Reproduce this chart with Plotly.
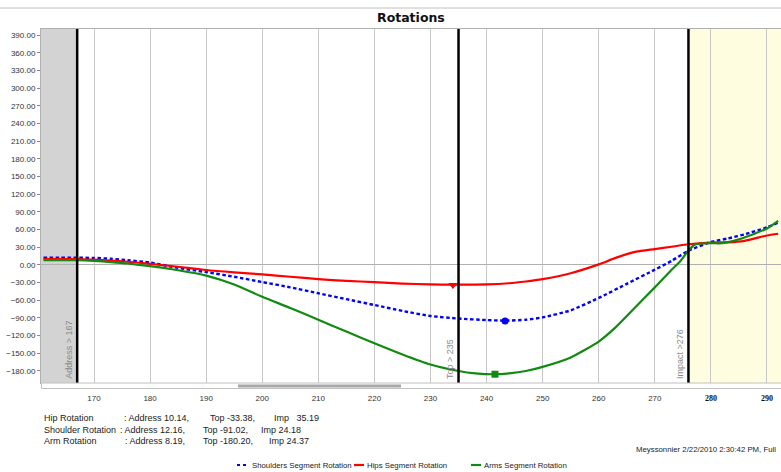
import plotly.graph_objects as go

# ---------------- data ----------------
frames_hips = [161, 164, 167, 170, 173, 176, 180, 185, 190, 195, 200, 205, 210, 215, 220, 225, 230, 234,
               240, 244, 247, 250, 255, 260, 263, 266.7, 270, 273, 276, 280, 283, 286, 290, 292]
hips_vals = [10.1, 10.1, 10.1, 9, 7.5, 5.5, 2, -3, -8.5, -12.5, -16, -20, -24, -27, -29, -31.5, -33, -33.4,
             -33, -31, -28, -24, -14, 1, 12, 22.6, 27, 31, 35.2, 38, 38.5, 41, 50, 53]

frames_sh = [161, 164, 167, 170, 173, 176, 180, 185, 190, 195, 200, 205, 210, 215, 220, 225, 230, 235,
             240, 243.3, 247, 250, 255, 260, 265, 270, 273, 276, 280, 283, 286, 290, 292]
sh_vals = [12.2, 12.2, 12.2, 12, 10.5, 8, 4, -5, -12, -20, -29, -38, -48, -58, -68, -78, -86.6, -91,
           -93.5, -94.5, -93, -89, -77, -56, -32, -8, 7, 24.2, 39, 45, 52, 64, 72]

frames_arm = [161, 164, 167, 170, 173, 176, 180, 185, 190, 195, 200, 205, 210, 215, 220, 225, 230, 235,
              238, 241.5, 244, 247, 250, 255, 260, 263, 266, 270, 273, 274.5, 276, 277.2, 280, 282, 285,
              288, 290, 292]
arm_vals = [8.2, 8.2, 8.2, 7, 5, 2.5, -2, -9, -18, -33, -54, -73, -93, -113, -133, -152, -169, -180,
            -184, -185.5, -184, -180, -173, -157, -130, -106, -77, -38, -8, 6, 24.4, 35, 37, 37, 43.6,
            54, 62, 75]

# extreme markers
hip_mark = (234, -34)
sh_mark = (243.3, -95)
arm_mark = (241.5, -185.5)

events = [167, 235, 276]
event_labels = ["Address > 167", "Top > 235", "Impact >276"]

x_ticks = [170, 180, 190, 200, 210, 220, 230, 240, 250, 260, 270, 280, 290]
y_ticks = list(range(-180, 391, 30))

stats_rows = [
    ["Hip Rotation", ": Address 10.14,", "Top -33.38,", "Imp   35.19"],
    ["Shoulder Rotation", ": Address 12.16,", "Top -91.02,", "Imp 24.18"],
    ["Arm Rotation", ": Address 8.19,", "Top -180.20,", "Imp 24.37"],
]
stats_cols_px = [[42, 122, 208, 272], [42, 118, 201, 259], [42, 123, 201, 267]]
stats_rows_px = [418, 429.5, 441]

legend_names = ["Shoulders Segment Rotation", "Hips Segment Rotation", "Arms Segment Rotation"]

# ---------------- geometry helpers ----------------
W, H = 781, 472
ML, MR, MT, MB = 41, 0, 29, 89
PW, PH = W - ML - MR, H - MT - MB


def px(xp):
    return (xp - ML) / PW


def py(yp):
    return (H - MB - yp) / PH


BLUE = "#0000ff"
RED = "#ff0000"
GREEN = "#118a11"
FONT = "Liberation Sans"

fig = go.Figure()

fig.add_trace(go.Scatter(x=frames_sh, y=sh_vals, mode="lines", name=legend_names[0],
                         line=dict(color=BLUE, width=2.4, dash="3.5px,2.5px", shape="spline", smoothing=0.6),
                         showlegend=False))
fig.add_trace(go.Scatter(x=frames_hips, y=hips_vals, mode="lines", name=legend_names[1],
                         line=dict(color=RED, width=2.2, shape="spline", smoothing=0.6), showlegend=False))
fig.add_trace(go.Scatter(x=frames_arm, y=arm_vals, mode="lines", name=legend_names[2],
                         line=dict(color=GREEN, width=2.2, shape="spline", smoothing=0.6), showlegend=False))

fig.add_trace(go.Scatter(x=[hip_mark[0]], y=[hip_mark[1]], mode="markers", showlegend=False,
                         marker=dict(symbol="triangle-down", size=8, color=RED)))
fig.add_trace(go.Scatter(x=[sh_mark[0]], y=[sh_mark[1]], mode="markers", showlegend=False,
                         marker=dict(symbol="circle", size=7, color=BLUE)))
fig.add_trace(go.Scatter(x=[arm_mark[0]], y=[arm_mark[1]], mode="markers", showlegend=False,
                         marker=dict(symbol="square", size=7, color=GREEN)))

shapes = []
# address gray area & impact yellow area
shapes.append(dict(type="rect", xref="x", yref="paper", x0=160.0, x1=events[0], y0=0, y1=1,
                   fillcolor="#d3d3d3", line=dict(width=0), layer="below"))
shapes.append(dict(type="rect", xref="x", yref="paper", x0=events[2], x1=300, y0=0, y1=1,
                   fillcolor="#fffde0", line=dict(width=0), layer="below"))
# event lines
for e in events:
    shapes.append(dict(type="line", xref="x", yref="paper", x0=e, x1=e, y0=0, y1=1,
                       line=dict(color="black", width=2.5)))
# top separator line
shapes.append(dict(type="line", xref="paper", yref="paper", x0=px(0), x1=px(W), y0=py(8), y1=py(8),
                   line=dict(color="#c0c0c0", width=1)))
# scrollbar
shapes.append(dict(type="rect", xref="paper", yref="paper", x0=px(41.5), x1=px(W + 2), y0=py(388.5), y1=py(383),
                   fillcolor="white", line=dict(color="#c0c0c0", width=1)))
shapes.append(dict(type="rect", xref="paper", yref="paper", x0=px(238), x1=px(401), y0=py(387.5), y1=py(384.5),
                   fillcolor="#a8a8a8", line=dict(width=0)))
# manual legend symbols
leg_sym = [(237, 249, BLUE, "dot"), (354, 364, RED, "solid"), (471, 481, GREEN, "solid")]
for x0, x1, c, d in leg_sym:
    shapes.append(dict(type="line", xref="paper", yref="paper", x0=px(x0), x1=px(x1), y0=py(465), y1=py(465),
                       line=dict(color=c, width=2.2, dash=d)))

annotations = []
annotations.append(dict(text="<b>Rotations</b>", xref="paper", yref="paper", x=px(411), y=py(17),
                        xanchor="center", yanchor="middle", showarrow=False,
                        font=dict(family="DejaVu Sans", size=12.5, color="#111")))
for e, lab in zip(events, event_labels):
    annotations.append(dict(text=lab, xref="x", yref="paper", x=e, y=0, xanchor="right", yanchor="bottom",
                            xshift=-1.5, yshift=2, textangle=-90, showarrow=False,
                            font=dict(family=FONT, size=9, color="#8a8a8a")))
for row, cols, yp in zip(stats_rows, stats_cols_px, stats_rows_px):
    for txt, xp in zip(row, cols):
        annotations.append(dict(text=txt, xref="paper", yref="paper", x=px(xp), y=py(yp),
                                xanchor="left", yanchor="middle", showarrow=False,
                                font=dict(family=FONT, size=9, color="#222")))
annotations.append(dict(text="Meyssonnier 2/22/2010 2:30:42 PM, Full", xref="paper", yref="paper",
                        x=px(778), y=py(449), xanchor="right", yanchor="middle", showarrow=False,
                        font=dict(family=FONT, size=7.8, color="#222")))
for (x0, x1, c, d), name in zip(leg_sym, legend_names):
    annotations.append(dict(text=name, xref="paper", yref="paper", x=px(x1 + 1), y=py(465),
                            xanchor="left", yanchor="middle", showarrow=False,
                            font=dict(family=FONT, size=7.8, color="#222")))

tick_text = []
for t in x_ticks:
    if t >= 280:
        tick_text.append("<b><span style='font-family:Liberation Serif;color:#111'>%d</span></b>" % t)
    else:
        tick_text.append(str(t))

fig.update_layout(
    width=W, height=H,
    margin=dict(l=ML, r=MR, t=MT, b=MB, pad=0),
    paper_bgcolor="white", plot_bgcolor="white",
    showlegend=False,
    shapes=shapes, annotations=annotations,
    font=dict(family=FONT, size=8, color="#333"),
    xaxis=dict(range=[160.55, 292.5], tickvals=x_ticks, ticktext=tick_text,
               showgrid=True, gridcolor="#c8c8c8", gridwidth=1, zeroline=False,
               showline=True, linecolor="#b0b0b0", linewidth=1, mirror=True,
               ticks="outside", ticklen=7, tickcolor="rgba(0,0,0,0)",
               tickfont=dict(family=FONT, size=8, color="#333")),
    yaxis=dict(range=[-200.4, 400.7], tickvals=y_ticks, tickformat=".2f",
               showgrid=False, zeroline=True, zerolinecolor="#b0b0b0", zerolinewidth=1,
               showline=True, linecolor="#b0b0b0", linewidth=1, mirror=True,
               ticks="outside", ticklen=3, tickcolor="#888",
               tickfont=dict(family=FONT, size=8, color="#333")),
)

fig.write_html("out.html", config={"displayModeBar": False},
               post_script="document.body.style.margin='0';document.body.style.overflow='hidden';")
